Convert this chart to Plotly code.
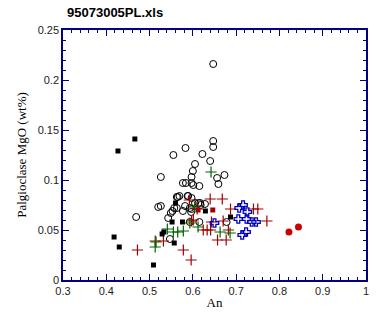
import plotly.graph_objects as go

# ---- data ----
sq_an = [0.427, 0.466, 0.418, 0.430, 0.509, 0.529, 0.533, 0.552, 0.557, 0.576, 0.560, 0.629, 0.687]
sq_mg = [0.129, 0.141, 0.043, 0.033, 0.015, 0.046, 0.048, 0.058, 0.037, 0.058, 0.077, 0.069, 0.063]

oc_an = [0.647, 0.647, 0.647, 0.583, 0.555, 0.622, 0.640, 0.605, 0.600, 0.526, 0.597, 0.656, 0.673,
         0.659, 0.577, 0.584, 0.597, 0.615, 0.601, 0.565, 0.588, 0.597, 0.469, 0.520, 0.526, 0.563,
         0.569, 0.589, 0.543, 0.549, 0.553, 0.557, 0.582, 0.593, 0.577, 0.596, 0.563, 0.547, 0.593,
         0.613, 0.618, 0.605, 0.617, 0.628, 0.597, 0.615, 0.678]
oc_mg = [0.216, 0.139, 0.133, 0.132, 0.125, 0.126, 0.119, 0.116, 0.109, 0.103, 0.103, 0.102, 0.105,
         0.096, 0.097, 0.097, 0.097, 0.094, 0.095, 0.083, 0.084, 0.082, 0.063, 0.073, 0.074, 0.083,
         0.084, 0.084, 0.062, 0.067, 0.069, 0.072, 0.074, 0.072, 0.069, 0.068, 0.072, 0.041, 0.058,
         0.077, 0.075, 0.077, 0.077, 0.076, 0.071, 0.058, 0.058]

rp_an = [0.472, 0.513, 0.532, 0.578, 0.596, 0.592, 0.640, 0.668, 0.687, 0.740, 0.750, 0.771, 0.601,
         0.643, 0.670, 0.624, 0.633, 0.641, 0.682, 0.657, 0.677, 0.610, 0.597]
rp_mg = [0.030, 0.039, 0.039, 0.030, 0.020, 0.080, 0.081, 0.081, 0.071, 0.071, 0.071, 0.059, 0.060,
         0.058, 0.059, 0.050, 0.050, 0.050, 0.050, 0.040, 0.040, 0.071, 0.059]

rs_an = [0.612, 0.646]
rs_mg = [0.070, 0.070]

gp_an = [0.513, 0.515, 0.541, 0.555, 0.565, 0.578, 0.593, 0.612, 0.642, 0.663, 0.686, 0.604]
gp_mg = [0.033, 0.038, 0.051, 0.048, 0.048, 0.049, 0.057, 0.053, 0.108, 0.048, 0.047, 0.073]

bc_an = [0.650, 0.707, 0.716, 0.726, 0.705, 0.724, 0.736, 0.746, 0.723, 0.714]
bc_mg = [0.057, 0.072, 0.075, 0.068, 0.061, 0.061, 0.058, 0.058, 0.048, 0.045]

rc_an = [0.822, 0.844]
rc_mg = [0.048, 0.053]

fig = go.Figure()
fig.add_trace(go.Scatter(x=oc_an, y=oc_mg, mode="markers",
                         marker=dict(symbol="circle-open", size=7, color="black", line=dict(width=1))))
fig.add_trace(go.Scatter(x=rp_an, y=rp_mg, mode="markers",
                         marker=dict(symbol="cross-thin", size=8, color="#a00000", line=dict(width=1.2, color="#a00000"))))
fig.add_trace(go.Scatter(x=gp_an, y=gp_mg, mode="markers",
                         marker=dict(symbol="cross-thin", size=8, color="#006400", line=dict(width=1.2, color="#006400"))))
fig.add_trace(go.Scatter(x=rs_an, y=rs_mg, mode="markers",
                         marker=dict(symbol="square", size=5, color="#a00000")))
fig.add_trace(go.Scatter(x=sq_an, y=sq_mg, mode="markers",
                         marker=dict(symbol="square", size=5, color="black")))
fig.add_trace(go.Scatter(x=bc_an, y=bc_mg, mode="markers",
                         marker=dict(symbol="cross-open", size=7, color="#0000c0", line=dict(width=1.3, color="#0000c0"))))
fig.add_trace(go.Scatter(x=rc_an, y=rc_mg, mode="markers",
                         marker=dict(symbol="circle", size=7, color="#cc0000")))

axis_common = dict(showline=True, linecolor="#000080", linewidth=1.5, mirror="ticks",
                   ticks="inside", tickcolor="#000080", ticklen=6, tickwidth=1,
                   showgrid=False, zeroline=False,
                   tickfont=dict(family="Liberation Sans, Arial", size=11, color="#222"))

fig.update_layout(
    width=380, height=324,
    margin=dict(l=63, r=14, t=30, b=44),
    paper_bgcolor="white", plot_bgcolor="white",
    showlegend=False,
    title=dict(text="<b>95073005PL.xls</b>", x=67/380, xanchor="left", y=1 - 12/324, yanchor="middle",
               font=dict(family="Liberation Sans, Arial", size=13, color="black")),
    xaxis=dict(range=[0.3, 1.0], dtick=0.1, tick0=0.3, tickangle=0,
               minor=dict(dtick=0.02, ticks="inside", ticklen=3, tickcolor="#000080"),
               title=dict(text="An", font=dict(family="Liberation Serif, Times New Roman", size=13, color="black"),
                          standoff=2),
               **axis_common),
    yaxis=dict(range=[0, 0.25], dtick=0.05, tickangle=0,
               minor=dict(dtick=0.01, ticks="inside", ticklen=3, tickcolor="#000080"),
               title=dict(text="Palgioclase MgO (wt%)", font=dict(family="Liberation Serif, Times New Roman", size=13, color="black"),
                          standoff=8),
               **axis_common),
)

fig.write_html("out.html")
